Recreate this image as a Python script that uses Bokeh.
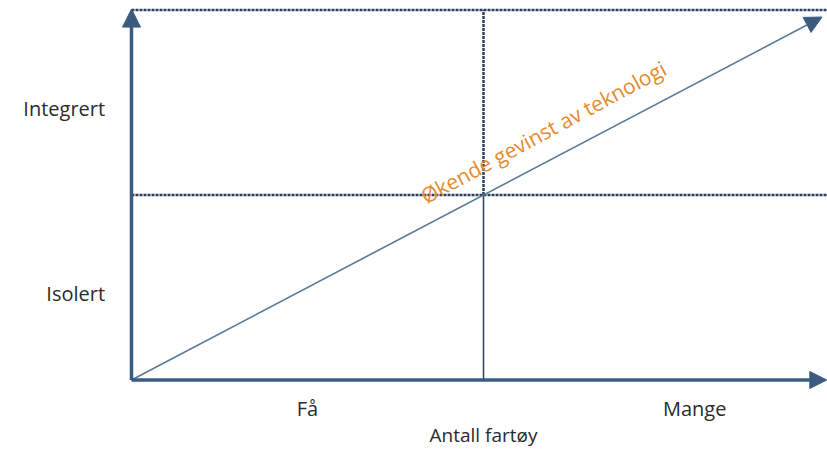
import math
from bokeh.plotting import figure
from bokeh.models import Arrow, NormalHead, Range1d, ColumnDataSource
from bokeh.core.properties import value
from bokeh.embed import file_html
from bokeh.resources import INLINE

# ---- content (conceptual 2x2 diagram) ----
x_categories = ["Få", "Mange"]
y_categories = ["Isolert", "Integrert"]
x_title = "Antall fartøy"
trend_label = "Økende gevinst av teknologi"
x_bounds = [0.0, 1.0, 2.2]   # quadrant edges along "Antall fartøy"
y_bounds = [0.0, 1.0, 2.0]   # quadrant edges along integration level

# ---- figure ----
W, H = 827, 449
X0 = -131 / 352
X1 = X0 + W / 352
Y1 = 379.5 / 185
Y0 = Y1 - H / 185
p = figure(width=W, height=H, x_range=Range1d(X0, X1), y_range=Range1d(Y0, Y1),
           output_backend="svg", toolbar_location=None, min_border=0,
           x_axis_location=None, y_axis_location=None)
p.grid.visible = False
p.outline_line_color = None
p.background_fill_color = "white"
p.border_fill_color = "white"

AX = "#3b5b80"
DASH = "#2b4060"
DIAG = "#5a7898"
ORANGE = "#E58A2D"
TXT = "#2b2b2b"
FONT = value("Open Sans")

xmin, xmid, xmax = x_bounds
ymin, ymid, ymax = y_bounds
xend = X1 - 0.002

# dashed quadrant lines
p.line([xmin, xend], [ymax, ymax], line_color=DASH, line_width=2.5, line_dash="3 1")
p.line([xmin, xend], [ymid, ymid], line_color=DASH, line_width=2.5, line_dash="3 1")
p.line([xmid, xmid], [ymid, ymax], line_color=DASH, line_width=2.5, line_dash="3 1")
p.line([xmid, xmid], [ymin, ymid], line_color=DASH, line_width=1.5)

# diagonal trend arrow
dx = 1.962
p.add_layout(Arrow(x_start=xmin, y_start=ymin, x_end=dx, y_end=dx * (ymid / xmid),
                   line_color=DIAG, line_width=1.6,
                   end=NormalHead(size=17, fill_color=AX, line_color=AX)))

# axes arrows
p.add_layout(Arrow(x_start=xmin, y_start=ymin, x_end=xmin, y_end=ymax + 0.005,
                   line_color=AX, line_width=3.5,
                   end=NormalHead(size=18, fill_color=AX, line_color=AX)))
p.add_layout(Arrow(x_start=xmin, y_start=ymin, x_end=xend, y_end=ymin,
                   line_color=AX, line_width=3.5,
                   end=NormalHead(size=17, fill_color=AX, line_color=AX)))

# category labels
xc = [(x_bounds[i] + x_bounds[i + 1]) / 2 for i in range(2)]
yc = [(y_bounds[i] + y_bounds[i + 1]) / 2 - 0.03 for i in range(2)]
src_x = ColumnDataSource(dict(x=xc, y=[-0.155] * 2, t=x_categories))
p.text(x="x", y="y", text="t", source=src_x, text_font=FONT, text_font_size="20px",
       text_color=TXT, text_align="center", text_baseline="middle")
src_y = ColumnDataSource(dict(x=[-0.075] * 2, y=yc, t=y_categories))
p.text(x="x", y="y", text="t", source=src_y, text_font=FONT, text_font_size="20px",
       text_color=TXT, text_align="right", text_baseline="middle")
p.text(x=[xmid], y=[-0.298], text=[x_title], text_font=FONT, text_font_size="19px",
       text_color=TXT, text_align="center", text_baseline="middle")

# trend label along the diagonal
ppu_x = W / (X1 - X0)
ppu_y = H / (Y1 - Y0)
ang = math.atan2(ymid * ppu_y, xmid * ppu_x) + 0.012
p.text(x=[1.17], y=[1.34], text=[trend_label], angle=ang, text_font=FONT,
       text_font_size="21px", text_color=ORANGE, text_align="center",
       text_baseline="middle")

open("out.html", "w").write(file_html(p, INLINE))
